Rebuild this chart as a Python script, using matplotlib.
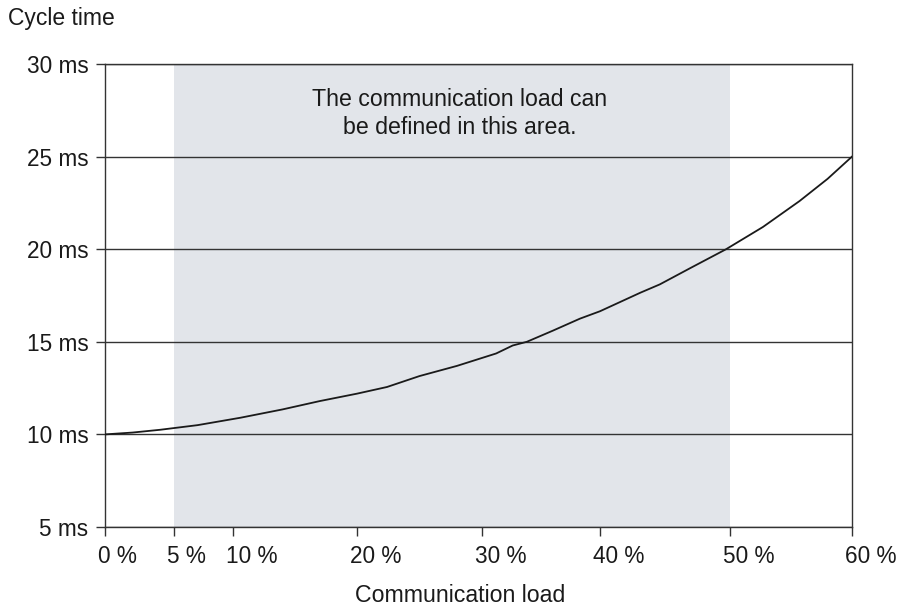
import numpy as np
import matplotlib.pyplot as plt
from matplotlib.transforms import ScaledTranslation

plt.rcParams["font.family"] = ["Liberation Sans", "DejaVu Sans"]

# Kurve: Zykluszeit ueber Kommunikationslast
load_pct = [0, 2, 4, 7, 10.6, 14, 17, 20, 22.4, 25, 28, 31.2, 32.6, 33.8, 36, 38.3,
            40, 43.1, 44.6, 47, 49.7, 52.7, 55.7, 58, 60]
cycle_ms = [10.0, 10.1, 10.25, 10.5, 10.9, 11.35, 11.8, 12.2, 12.56, 13.15, 13.7,
            14.37, 14.8, 15.0, 15.6, 16.25, 16.65, 17.65, 18.1, 19.0, 20.0, 21.2,
            22.6, 23.8, 25.0]

x_ticks = [0, 5, 10, 20, 30, 40, 50, 60]
x_tick_labels = ["0 %", "5 %", "10 %", "20 %", "30 %", "40 %", "50 %", "60 %"]
y_ticks = [5, 10, 15, 20, 25, 30]
y_tick_labels = ["5 ms", "10 ms", "15 ms", "20 ms", "25 ms", "30 ms"]
area_from, area_to = 5, 50

# die x-Achse im Original ist nicht ganz linear (Abstand der Ticks)
axis_pct = [0, 5, 10, 20, 30, 40, 50, 60]
axis_pos = [0, 69, 128, 252, 377, 495, 625, 747]


def fwd(v):
    return np.interp(v, axis_pct, axis_pos)


def inv(v):
    return np.interp(v, axis_pos, axis_pct)


def main():
    fig = plt.figure(figsize=(8.99, 6.06), dpi=100)
    ax = fig.add_axes([105 / 899, 1 - 527 / 606, 747 / 899, 463 / 606])

    ax.set_xscale("function", functions=(fwd, inv))
    ax.set_xlim(0, 60)
    ax.set_ylim(5, 30)

    ax.axvspan(area_from, area_to, color="#e2e5ea", lw=0, zorder=0)
    ax.plot(load_pct, cycle_ms, color="#1a1a1a", lw=1.3, zorder=3)

    ax.set_yticks(y_ticks)
    ax.set_yticklabels(y_tick_labels)
    ax.set_xticks(x_ticks)
    ax.set_xticklabels(x_tick_labels)
    ax.set_xticks([5], minor=True)

    ax.yaxis.grid(True, color="#333333", lw=1.0)
    ax.set_axisbelow(False)
    ax.tick_params(axis="both", which="major", direction="out", length=6.5, width=1.0,
                   color="#333333", labelsize=16.3, labelcolor="#1a1a1a")
    ax.tick_params(axis="y", pad=5.5)
    ax.tick_params(axis="x", pad=6.5)
    ax.tick_params(axis="x", which="minor", direction="in", length=5, width=1.0,
                   color="#333333")
    for sp in ax.spines.values():
        sp.set_color("#333333")
        sp.set_linewidth(1.0)

    # Prozent-Labels: Zahl steht ueber dem Tick, " %" haengt rechts dran
    off = ScaledTranslation(-7 / 100, 0, fig.dpi_scale_trans)
    for lab in ax.get_xticklabels():
        lab.set_horizontalalignment("left")
        lab.set_transform(lab.get_transform() + off)

    ax.text(28.2, 27.33, "The communication load can\nbe defined in this area.",
            ha="center", va="center", fontsize=16.7, color="#1a1a1a",
            linespacing=1.3, zorder=4)

    fig.text(8 / 899, 1 - 18 / 606, "Cycle time", ha="left", va="center",
             fontsize=16.5, color="#1a1a1a")
    fig.text(460 / 899, 1 - 596 / 606, "Communication load", ha="center",
             va="center", fontsize=16.7, color="#1a1a1a")

    fig.savefig("out.png", dpi=100)
    plt.close(fig)


if __name__ == "__main__":
    main()
